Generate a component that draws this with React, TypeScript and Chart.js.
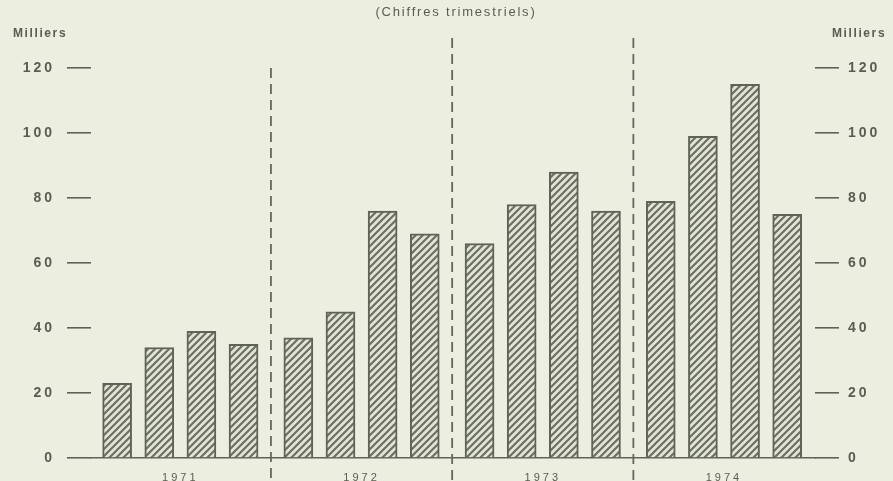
import React, { useEffect, useRef } from "react";
import { Chart, registerables } from "chart.js";

Chart.register(...registerables);

const YEARS = ["1971", "1972", "1973", "1974"];
const QUARTERS = ["T1", "T2", "T3", "T4"];
const VALUES_1971 = [23, 34, 39, 35];
const VALUES_1972 = [37, 45, 76, 69];
const VALUES_1973 = [66, 78, 88, 76];
const VALUES_1974 = [79, 99, 115, 75];
const SERIES = [VALUES_1971, VALUES_1972, VALUES_1973, VALUES_1974];
const Y_TICKS = [0, 20, 40, 60, 80, 100, 120];
const TITLE = "(Chiffres trimestriels)";
const UNIT = "Milliers";

// layout constants
const GROUP_STEP = 4.3; // quarters per year + gap between years
const W = 893;
const H = 481;
const BG = "#eceee0";
const INK = "#5f6357";
const TEXT = "#595d51";
const FONT = '"Liberation Sans", "DejaVu Sans", sans-serif';

function makePattern(): CanvasPattern | string {
  const s = 7;
  const c = document.createElement("canvas");
  c.width = s;
  c.height = s;
  const g = c.getContext("2d");
  if (!g) return "#ccc";
  g.fillStyle = "#e2e5d6";
  g.fillRect(0, 0, s, s);
  g.strokeStyle = "#6c7063";
  g.lineWidth = 2.2;
  g.beginPath();
  g.moveTo(-1, s + 1);
  g.lineTo(s + 1, -1);
  g.moveTo(-1, 1);
  g.lineTo(1, -1);
  g.moveTo(s - 1, s + 1);
  g.lineTo(s + 1, s - 1);
  g.stroke();
  const ctx = document.createElement("canvas").getContext("2d");
  return ctx ? (ctx.createPattern(c, "repeat") as CanvasPattern) : "#ccc";
}

const decorPlugin = {
  id: "decor",
  beforeDraw(chart: any) {
    const ctx = chart.ctx;
    ctx.save();
    ctx.fillStyle = BG;
    ctx.fillRect(0, 0, chart.width, chart.height);
    ctx.restore();
    ctx.letterSpacing = "3px";
  },
  afterDraw(chart: any) {
    const ctx = chart.ctx;
    const xs = chart.scales.x;
    const area = chart.chartArea;
    ctx.save();
    // dividers between years
    ctx.strokeStyle = "#63675a";
    ctx.lineWidth = 1.8;
    ctx.setLineDash([10, 6]);
    for (let i = 0; i < YEARS.length - 1; i++) {
      const px = xs.getPixelForValue(i * GROUP_STEP + 3 + (GROUP_STEP - 3) / 2);
      const top = i === 0 ? area.top : area.top - 30;
      ctx.beginPath();
      ctx.moveTo(px, top);
      ctx.lineTo(px, chart.height);
      ctx.stroke();
    }
    ctx.setLineDash([]);
    // texts
    ctx.fillStyle = TEXT;
    ctx.textBaseline = "middle";
    ctx.letterSpacing = "1.8px";
    ctx.font = `13px ${FONT}`;
    ctx.textAlign = "center";
    ctx.fillText(TITLE, 456, 12);
    ctx.font = `bold 12px ${FONT}`;
    ctx.letterSpacing = "1.6px";
    ctx.textAlign = "left";
    ctx.fillText(UNIT, 13, 34);
    ctx.fillText(UNIT, 832, 34);
    ctx.restore();
  },
};

export default function App() {
  const ref = useRef<HTMLCanvasElement | null>(null);

  useEffect(() => {
    document.body.style.margin = "0";
    const canvas = ref.current;
    if (!canvas) return;
    const points: { x: number; y: number }[] = [];
    const labels: string[] = [];
    SERIES.forEach((vals, yi) =>
      vals.forEach((v, qi) => {
        points.push({ x: yi * GROUP_STEP + qi, y: v });
        labels.push(`${YEARS[yi]} ${QUARTERS[qi]}`);
      })
    );
    const tickFont = { family: FONT, size: 14, weight: "bold" as const };
    const yCommon = (pos: "left" | "right", width: number, pad: number) => ({
      position: pos,
      min: 0,
      max: 120,
      afterBuildTicks: (s: any) => {
        s.ticks = Y_TICKS.map((v) => ({ value: v }));
      },
      ticks: { color: TEXT, font: tickFont, padding: pad },
      grid: {
        drawOnChartArea: false,
        drawTicks: true,
        tickLength: 24,
        color: INK,
        lineWidth: 1.6,
      },
      border: { display: false },
      afterFit: (s: any) => {
        s.width = width;
      },
    });
    const chart = new Chart(canvas, {
      type: "bar",
      data: {
        labels,
        datasets: [
          {
            data: points as any,
            backgroundColor: makePattern() as any,
            borderColor: INK,
            borderWidth: 2,
            barThickness: 29,
          },
        ],
      },
      options: {
        animation: false,
        responsive: false,
        layout: { padding: { top: 68, left: 0, right: 0, bottom: 0 } },
        plugins: { legend: { display: false }, tooltip: { enabled: false } },
        scales: {
          x: {
            type: "linear",
            offset: false,
            min: -0.62,
            max: 16.56,
            grid: { display: false },
            border: { display: true, color: INK, width: 1.6 },
            afterBuildTicks: (s: any) => {
              s.ticks = YEARS.map((_, i) => ({ value: i * GROUP_STEP + 1.5 }));
            },
            ticks: {
              color: TEXT,
              font: { family: FONT, size: 11 },
              padding: 5,
              autoSkip: false,
              maxRotation: 0,
              callback: (_v: any, i: number) => YEARS[i],
            },
            afterFit: (s: any) => {
              s.height = 23;
            },
          },
          y: yCommon("left", 91, 12) as any,
          y2: yCommon("right", 78, 9) as any,
        },
      },
      plugins: [decorPlugin],
    });
    return () => chart.destroy();
  }, []);

  return (
    <div style={{ position: "fixed", left: 0, top: 0, width: W, height: H, background: BG }}>
      <canvas ref={ref} width={W} height={H} style={{ width: W, height: H, display: "block" }} />
    </div>
  );
}
